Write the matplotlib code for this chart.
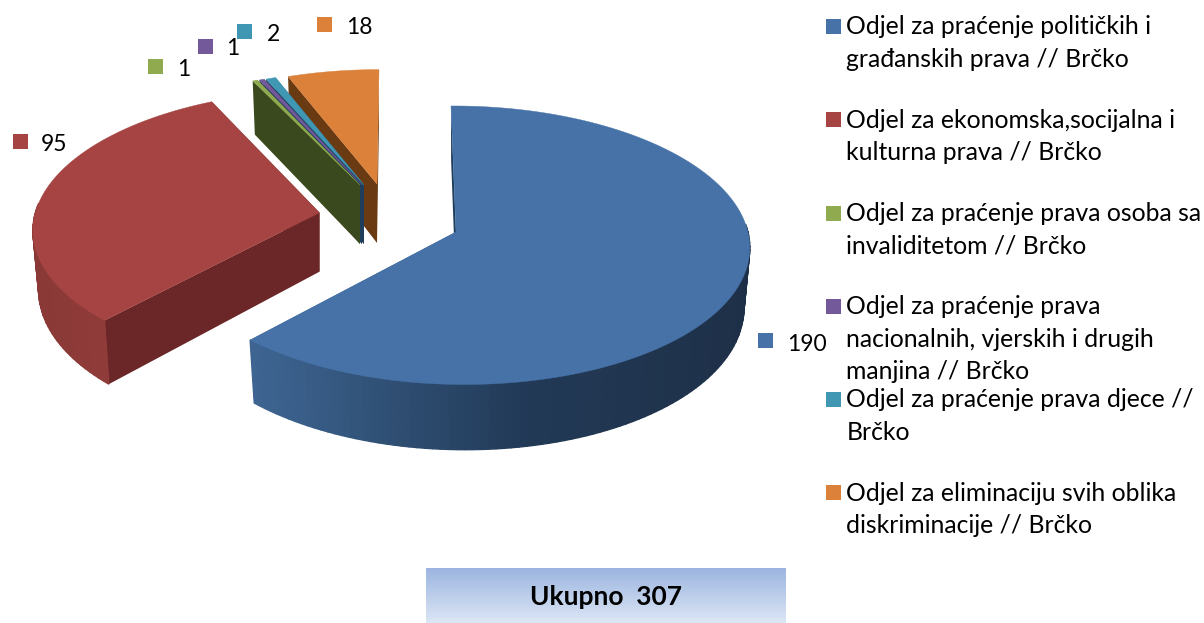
#!/usr/bin/env python
import numpy as np
import matplotlib
matplotlib.use('Agg')
import matplotlib.pyplot as plt
from matplotlib.colors import LinearSegmentedColormap
from matplotlib.patches import Rectangle

values = [190, 95, 1, 1, 2, 18]
total_label = 'Ukupno  307'
colors = ['#4672A8', '#A54442', '#8FAA4F', '#73589A', '#3F97B3', '#DB813A']
legend_lines = [
    ['Odjel za praćenje političkih i', 'građanskih prava // Brčko'],
    ['Odjel za ekonomska,socijalna i', 'kulturna prava // Brčko'],
    ['Odjel za praćenje prava osoba sa', 'invaliditetom // Brčko'],
    ['Odjel za praćenje prava', 'nacionalnih, vjerskih i drugih', 'manjina // Brčko'],
    ['Odjel za praćenje prava djece //', 'Brčko'],
    ['Odjel za eliminaciju svih oblika', 'diskriminacije // Brčko'],
]

# layout, all in image pixels
legend_baselines = [[34, 66.7], [128, 160], [221, 253], [314, 347, 379], [407, 440], [501, 533]]
legend_marker_y = [19, 112, 206, 299, 392, 485]
label_pos = [(758, 333, 787, 351), (13, 134, 41, 151), (148, 59, 177.5, 76),
             (198, 39, 226.5, 55), (237, 24, 266.5, 41), (317, 17, 346, 34)]

# apex, radii, side lean, perspective front/back (k) and left/right (j)
slices = [
    dict(apex=(456, 232), rx=289, ry=138, shear=5, k=0.095, j=0.01),
    dict(apex=(319.5, 212.7), rx=287, ry=136, shear=-6, k=0.11, j=0.01),
    dict(apex=(360, 185), rx=271, ry=127, shear=0, k=0.11, j=0),
    dict(apex=(362, 185), rx=271, ry=127, shear=0, k=0.11, j=0),
    dict(apex=(364, 185), rx=271, ry=127, shear=0, k=0.11, j=0),
    dict(apex=(377, 184), rx=278, ry=127, shear=-2, k=0.11, j=0),
]
# colour of the face left by the cut, and the outer wall from left to right
cut_colors = ['#1F3E5C', '#6B2727', '#3B4A1E', '#1F3E5C', '#1F3E5C', '#6A3A13']
wall_colors = [[(0, '#3E6693'), (0.55, '#223A57'), (1, '#1E3048')],
               [(0, '#8A3937'), (1, '#963E3C')],
               None, None, None, None]
DEPTH = 59
SHRINK = 0.98


def rim(theta, s):
    x = np.sin(theta)
    y = -np.cos(theta)
    den = 1 - s['k']*y - s['j']*x
    px = s['apex'][0] + s['rx']*x/den + s['shear']*y
    py = s['apex'][1] + s['ry']*y/den
    low_x = s['apex'][0] + (px - s['apex'][0])*SHRINK
    low_y = py + DEPTH/den
    return px, py, low_x, low_y


def draw_slice(ax, i, t0, t1, z):
    s = slices[i]
    ax0, ay0 = s['apex']
    for t in [t0, t1]:
        px, py, lx, ly = rim(t, s)
        ax.fill([ax0, px, lx, ax0], [ay0, py, ly, ay0 + DEPTH],
                color=cut_colors[i], lw=0, zorder=z)

    thetas = np.linspace(t0, t1, max(int((t1 - t0)*40), 6))
    px, py, lx, ly = rim(thetas, s)
    if wall_colors[i] is not None:
        cmap = LinearSegmentedColormap.from_list('w', wall_colors[i])
        left, right = px.min(), px.max()
        for n in range(len(thetas) - 1):
            # the back of the rim is hidden by the top face
            if np.cos(thetas[n]) > 0.05 and np.cos(thetas[n+1]) > 0.05:
                continue
            c = cmap((px[n] - left)/(right - left))
            ax.fill([px[n], px[n+1], lx[n+1], lx[n]], [py[n], py[n+1], ly[n+1], ly[n]],
                    color=c, lw=1.0, zorder=z)

    ax.fill(np.r_[ax0, px], np.r_[ay0, py], color=colors[i], lw=0.3, zorder=z)


plt.rcParams['font.family'] = ['Lato', 'DejaVu Sans']
fig = plt.figure(figsize=(12.04, 6.23), dpi=100)
ax = fig.add_axes([0, 0, 1, 1])

angles = np.r_[0, np.cumsum(values)]/float(sum(values))*2.0*np.pi
# back slices first so the front ones sit on top of them
order = [5, 4, 3, 2, 1, 0]
for z, i in enumerate(order):
    draw_slice(ax, i, angles[i], angles[i+1], 2 + z)

for i, (mx, my, tx, ty) in enumerate(label_pos):
    ax.add_patch(Rectangle((mx, my), 15, 15, color=colors[i], lw=0, zorder=10))
    ax.text(tx, ty, str(values[i]), fontsize=16.5, color='black', va='baseline', zorder=10)

for i, lines in enumerate(legend_lines):
    ax.add_patch(Rectangle((826, legend_marker_y[i]), 15, 15, color=colors[i], lw=0, zorder=10))
    for line, base in zip(lines, legend_baselines[i]):
        ax.text(846.5, base, line, fontsize=17.8, color='black', va='baseline', zorder=10)

box_cmap = LinearSegmentedColormap.from_list('box', ['#9CB5E0', '#DCE6F5'])
ax.imshow(np.linspace(0, 1, 64).reshape(-1, 1), cmap=box_cmap, aspect='auto',
          extent=(426, 786, 623, 568), zorder=1)
ax.text(606, 597, total_label, fontsize=19, fontweight='bold', ha='center',
        va='center', color='black', zorder=10)

ax.set_xlim(0, 1204)
ax.set_ylim(623, 0)
ax.axis('off')
fig.savefig('out.png', dpi=100, facecolor='white')
